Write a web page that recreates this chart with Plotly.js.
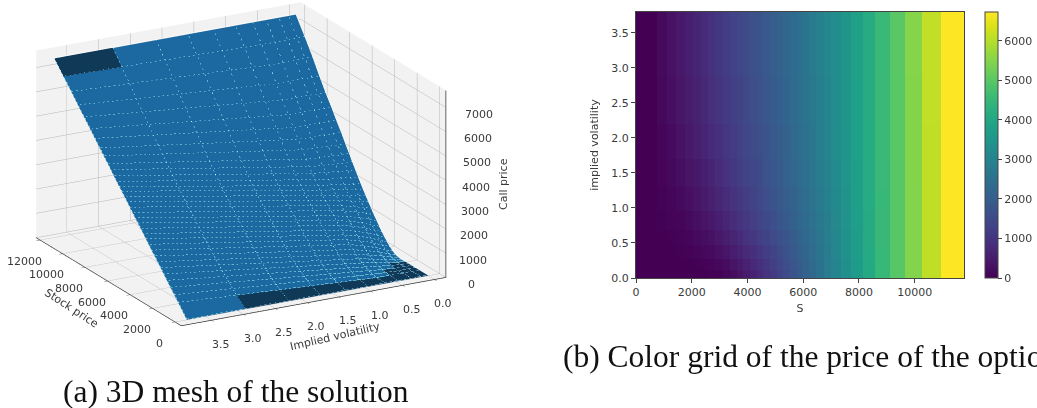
<!DOCTYPE html>
<html><head><meta charset="utf-8">
<script src="https://cdn.plot.ly/plotly-3.0.1.min.js"></script>
<style>html,body{margin:0;padding:0;background:#fff;overflow:hidden}</style></head>
<body><div id="chart" style="width:1037px;height:408px"></div>
<script>
const stockPrice = [0,753,1100,1435,1747,2035,2320,2583,2845,3110,3373,3613,3850,4090,4330,4557,4808,5048,5285,5525,5765,5967,6207,6458,6735,7007,7355,7714,8145,8586,9113,9662,10261,10954,11770];
const impliedVol = [0,0.12,0.27,0.47,0.68,0.95,1.3,1.7,2.2,2.88,3.795];
const priceVol000 = [0,0,0,0,0,0,0,10,40,110,220,340,480,630,790,960,1140,1330,1520,1710,1900,2080,2290,2520,2770,3030,3350,3700,4080,4500,4960,5480,6090,6730,7440];
const priceVol012 = [0,0,0,0,0,10,30,70,130,220,340,470,610,760,910,1070,1240,1410,1590,1770,1950,2110,2320,2540,2780,3040,3350,3700,4080,4500,4960,5480,6090,6730,7440];
const priceVol027 = [0,0,0,10,30,70,120,190,280,390,510,640,780,920,1060,1210,1370,1530,1690,1860,2030,2180,2370,2580,2810,3060,3370,3720,4090,4500,4960,5480,6090,6730,7440];
const priceVol047 = [0,0,20,50,100,160,230,320,430,550,680,810,950,1090,1220,1360,1510,1650,1800,1950,2110,2260,2430,2630,2850,3090,3390,3730,4100,4510,4970,5480,6090,6730,7440];
const priceVol068 = [0,10,50,100,170,250,340,450,570,700,830,960,1090,1220,1350,1480,1620,1760,1900,2040,2190,2330,2500,2690,2890,3130,3410,3740,4110,4510,4970,5480,6090,6730,7440];
const priceVol095 = [0,30,90,160,250,350,460,580,700,830,960,1090,1210,1340,1460,1590,1720,1850,1980,2120,2260,2400,2560,2740,2940,3160,3440,3760,4120,4520,4970,5480,6090,6730,7440];
const priceVol130 = [0,60,140,230,340,450,570,690,820,950,1070,1200,1320,1440,1560,1680,1810,1940,2060,2200,2330,2460,2620,2790,2980,3200,3470,3780,4130,4530,4980,5490,6090,6730,7440];
const priceVol170 = [0,90,190,300,420,540,660,790,910,1040,1160,1280,1400,1520,1630,1750,1870,2000,2120,2250,2380,2510,2660,2830,3010,3230,3490,3800,4150,4540,4990,5490,6090,6733,7440];
const priceVol220 = [0,130,250,370,500,630,750,880,1000,1130,1250,1360,1470,1590,1700,1810,1930,2050,2170,2300,2420,2550,2700,2860,3040,3250,3510,3810,4160,4550,4990,5490,6100,6733,7440];
const priceVol288 = [0,170,300,420,560,690,810,940,1060,1190,1310,1420,1530,1640,1750,1860,1970,2090,2210,2340,2460,2590,2740,2900,3070,3280,3530,3830,4170,4560,5000,5500,6100,6733,7440];
const prices = [priceVol000,priceVol012,priceVol027,priceVol047,priceVol068,priceVol095,priceVol130,priceVol170,priceVol220,priceVol288];
const meshVol095 = [0,52,108,173,254,343,441,556,681,814,947,1079,1211,1343,1475,1606,1748,1889,2030,2171,2321,2460,2628,2815,3013,3247,3521,3842,4203,4592,5041,5536,6126,6747,7440];
const meshVol130 = [0,103,179,261,357,457,565,686,816,953,1090,1225,1359,1493,1627,1760,1904,2046,2188,2330,2481,2618,2785,2968,3163,3390,3658,3967,4318,4693,5128,5605,6169,6769,7440];
const meshVol170 = [0,164,263,366,478,592,712,840,975,1118,1260,1397,1533,1670,1808,1942,2088,2232,2375,2519,2669,2806,2970,3149,3341,3558,3819,4115,4453,4812,5230,5687,6220,6794,7440];
const meshVol220 = [0,238,366,495,628,758,892,1029,1172,1320,1468,1608,1748,1889,2030,2166,2315,2461,2606,2751,2902,3036,3197,3372,3560,3766,4017,4296,4619,4959,5357,5787,6284,6825,7440];
const meshVol288 = [0,341,508,673,833,986,1139,1289,1442,1599,1754,1899,2044,2189,2335,2474,2627,2775,2922,3071,3222,3353,3510,3678,3861,4052,4289,4546,4847,5160,5530,5924,6370,6867,7440];
const meshVol380 = [0,476,695,907,1104,1286,1466,1632,1798,1966,2132,2283,2433,2585,2737,2880,3039,3190,3340,3492,3643,3771,3923,4081,4257,4428,4648,4875,5148,5426,5759,6106,6485,6923,7440];
const meshPrices = [priceVol000,priceVol012,priceVol027,priceVol047,priceVol068,meshVol095,meshVol130,meshVol170,meshVol220,meshVol288,meshVol380];
const sTicks = [0,2000,4000,6000,8000,10000,12000];
const volTicks = [0,0.5,1,1.5,2,2.5,3,3.5];
const zTicks = [0,1000,2000,3000,4000,5000,6000,7000];
const sRange = [-550,12350], volRange = [-0.18,3.98], zRange = [0,7700];

const textColor = '#3a3a3a';
const tickFont = {family:'DejaVu Sans',size:11,color:textColor};
const meshBlue = '#1c69a1', meshDark = '#0f3957', meshLine = 'rgba(150,190,215,0.38)';
const flat = {ambient:1,diffuse:0,specular:0,roughness:1,fresnel:0};
function solid(c){return [[0,c],[1,c]];}
function patch(i0,i1,j0,j1,lift){
  return {type:'surface',showscale:false,hoverinfo:'skip',lighting:flat,colorscale:solid(meshDark),
    x:stockPrice.slice(i0,i1+1),y:impliedVol.slice(j0,j1+1),
    z:meshPrices.slice(j0,j1+1).map(r=>r.slice(i0,i1+1).map(v=>v+lift))};
}
const lx=[],ly=[],lz=[],lift=30;
impliedVol.forEach((v,j)=>{stockPrice.forEach((s,i)=>{lx.push(s);ly.push(v);lz.push(meshPrices[j][i]+lift);});lx.push(null);ly.push(null);lz.push(null);});
stockPrice.forEach((s,i)=>{impliedVol.forEach((v,j)=>{lx.push(s);ly.push(v);lz.push(meshPrices[j][i]+lift);});lx.push(null);ly.push(null);lz.push(null);});

// z axis drawn on the right-hand edge, as in the reference
const ax=[sRange[0],sRange[0]],ay=[volRange[0],volRange[0]],az=[zRange[0],zRange[1]];
zTicks.forEach(t=>{ax.push(null,sRange[0],sRange[0]-120);ay.push(null,volRange[0],volRange[0]-0.04);az.push(null,t,t);});

const traces = [
 {type:'surface',x:stockPrice,y:impliedVol,z:meshPrices,colorscale:solid(meshBlue),showscale:false,lighting:flat,hoverinfo:'skip'},
 patch(33,34,9,10,12), patch(0,1,2,9,12), patch(0,5,0,2,12), patch(0,3,2,3,12),
 {type:'scatter3d',mode:'lines',x:lx,y:ly,z:lz,line:{color:meshLine,width:1},hoverinfo:'skip',showlegend:false},
 {type:'scatter3d',mode:'lines',x:ax,y:ay,z:az,line:{color:'#333',width:1.5},hoverinfo:'skip',showlegend:false},
 {type:'heatmap',x:stockPrice,y:impliedVol,z:prices.map(r=>r.slice(0,34)),
  colorscale:'Viridis',zmin:0,zmax:6733,xaxis:'x',yaxis:'y',hoverinfo:'skip',
  colorbar:{x:985/1037,xanchor:'left',xpad:0,ypad:0,y:130/408,yanchor:'bottom',lenmode:'fraction',len:266/408,
    thickness:13,thicknessmode:'pixels',outlinecolor:'#444',outlinewidth:1,ticks:'outside',ticklen:4,tickcolor:'#444',
    tickvals:[0,1000,2000,3000,4000,5000,6000],tickfont:tickFont}}
];
function axis3d(range,ticks,native){return {
  title:{text:''},range:range,autorange:false,tickvals:ticks,showticklabels:false,
  showbackground:true,backgroundcolor:'#f2f2f2',gridcolor:'#b5b5b5',gridwidth:1,zeroline:false,showline:native,linecolor:'#333',linewidth:1.5,
  ticks:native?'outside':'',ticklen:4,tickcolor:'#333',showspikes:false};}
const tickAnn = [];
sTicks.forEach(t=>tickAnn.push({x:t,y:volRange[1],z:0,text:String(t),showarrow:false,xshift:-16,yshift:-21,font:tickFont}));
volTicks.forEach(t=>tickAnn.push({x:sRange[0],y:t,z:0,text:t.toFixed(1),showarrow:false,xshift:9,yshift:-24,font:tickFont}));
zTicks.forEach(t=>tickAnn.push({x:sRange[0],y:volRange[0],z:t,text:String(t),showarrow:false,xshift:26+t/1000,yshift:-7,font:tickFont}));
const layout = {
 width:1037,height:408,margin:{l:0,r:0,t:0,b:0},paper_bgcolor:'#fff',plot_bgcolor:'#fff',showlegend:false,
 scene:{domain:{x:[0,482/1037],y:[80/408,1]},
  xaxis:axis3d(sRange,sTicks,true),yaxis:axis3d(volRange,volTicks,true),zaxis:axis3d(zRange,zTicks,false),
  aspectmode:'manual',aspectratio:{x:1.84,y:1.84,z:1.21},annotations:tickAnn,
  camera:{eye:{x:-1.44,y:0.79,z:0.58},center:{x:0,y:0,z:0},up:{x:0,y:0,z:1},projection:{type:'orthographic'}}},
 xaxis:{domain:[636/1037,964/1037],range:[0,11770],tickvals:[0,2000,4000,6000,8000,10000],ticktext:['0','2000','4000','6000','8000','10000'],showline:true,mirror:true,linecolor:'#444',linewidth:1,
   ticks:'outside',ticklen:4,tickcolor:'#444',showgrid:false,zeroline:false,tickfont:tickFont,
   title:{text:'S',font:tickFont,standoff:6},anchor:'y'},
 yaxis:{domain:[130/408,396/408],range:[0,3.795],tickvals:volTicks,ticktext:volTicks.map(t=>t.toFixed(1)),showline:true,mirror:true,linecolor:'#444',linewidth:1,
   ticks:'outside',ticklen:4,tickcolor:'#444',showgrid:false,zeroline:false,tickfont:tickFont,
   title:{text:'implied volatility',font:tickFont,standoff:10},anchor:'x'},
 annotations:[
  {xref:'paper',yref:'paper',x:72/1037,xanchor:'center',y:1-308/408,yanchor:'middle',showarrow:false,text:'Stock price',textangle:33,font:tickFont},
  {xref:'paper',yref:'paper',x:335/1037,xanchor:'center',y:1-336/408,yanchor:'middle',showarrow:false,text:'Implied volatility',textangle:-13,font:tickFont},
  {xref:'paper',yref:'paper',x:504/1037,xanchor:'center',y:1-184/408,yanchor:'middle',showarrow:false,text:'Call price',textangle:-90,font:tickFont},
  {xref:'paper',yref:'paper',x:509/1037,xanchor:'left',y:1-184/408,yanchor:'middle',showarrow:false,text:' ',bgcolor:'#fff',width:18,height:80,font:tickFont},
  {xref:'paper',yref:'paper',x:61/1037,xanchor:'left',y:1-391/408,yanchor:'middle',showarrow:false,text:'(a) 3D mesh of the solution',font:{family:'Liberation Serif',size:31.5,color:'#111'}},
  {xref:'paper',yref:'paper',x:561/1037,xanchor:'left',y:1-356/408,yanchor:'middle',showarrow:false,text:'(b) Color grid of the price of the option',font:{family:'Liberation Serif',size:31.5,color:'#111'}}
 ]
};
Plotly.newPlot('chart',traces,layout,{displayModeBar:false});
</script></body></html>
